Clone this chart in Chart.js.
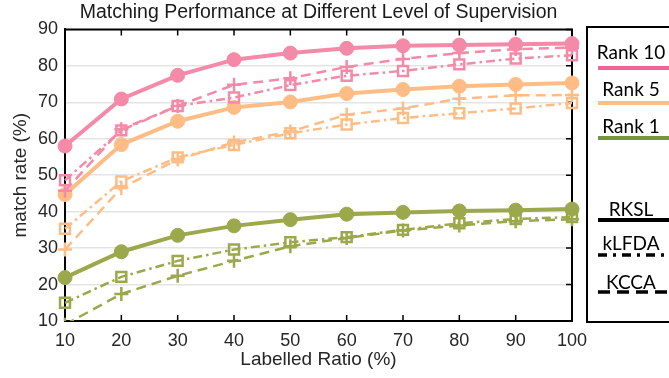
<!DOCTYPE html>
<html><head><meta charset="utf-8">
<script src="https://cdn.jsdelivr.net/npm/chart.js@4.4.1/dist/chart.umd.min.js"></script>
<style>
html,body{margin:0;padding:0;background:#fff;overflow:hidden;}
#wrap{position:relative;width:669px;height:378px;overflow:hidden;}
#c{position:absolute;left:0;top:0;}
#legend{position:absolute;left:586px;top:26px;width:120px;height:297px;border:2px solid #000;box-sizing:border-box;}
.lt{position:absolute;left:631px;font-family:Lato,'Open Sans',sans-serif;font-size:19px;color:#000;transform:translate(-50%,-50%);white-space:nowrap;line-height:1;}
#lsvg{position:absolute;left:0;top:0;}
</style></head>
<body>
<div id="wrap">
<canvas id="c" width="669" height="378"></canvas>
<div id="legend"></div>
<svg id="lsvg" width="669" height="378"></svg>
<div class="lt" style="top:51px">Rank 10</div>
<div class="lt" style="top:88px">Rank 5</div>
<div class="lt" style="top:125px">Rank 1</div>
<div class="lt" style="top:208px">RKSL</div>
<div class="lt" style="top:242px">kLFDA</div>
<div class="lt" style="top:281px">KCCA</div>
</div>
<script>
// ---- data ----
const ratios = [10, 20, 30, 40, 50, 60, 70, 80, 90, 100];
const yTickValues = [10, 20, 30, 40, 50, 60, 70, 80, 90];
const rank10RKSL  = [58.0, 70.9, 77.4, 81.7, 83.5, 84.8, 85.5, 85.7, 85.9, 86.1];
const rank10kLFDA = [48.6, 62.3, 69.0, 71.3, 74.7, 77.3, 78.6, 80.4, 82.0, 82.9];
const rank10KCCA  = [45.7, 62.6, 69.0, 74.8, 76.6, 79.7, 81.9, 83.5, 84.6, 85.0];
const rank5RKSL   = [44.7, 58.4, 64.8, 68.6, 70.1, 72.4, 73.5, 74.4, 74.9, 75.3];
const rank5kLFDA  = [35.3, 48.3, 54.9, 58.3, 61.5, 63.9, 65.7, 67.0, 68.3, 69.8];
const rank5KCCA   = [29.6, 46.5, 54.3, 59.0, 62.0, 66.6, 68.3, 71.0, 71.9, 72.0];
const rank1RKSL   = [21.9, 29.0, 33.5, 36.1, 37.8, 39.3, 39.8, 40.2, 40.4, 40.7];
const rank1kLFDA  = [15.0, 22.1, 26.5, 29.6, 31.6, 33.0, 35.0, 36.8, 38.0, 38.5];
const rank1KCCA   = [9.0, 17.4, 22.4, 26.5, 30.5, 32.8, 34.8, 36.2, 37.4, 37.9];
const legendRanks = ['Rank 10', 'Rank 5', 'Rank 1'];
const legendMethods = ['RKSL', 'kLFDA', 'KCCA'];

// ---- styles ----
const PINK = '#F48AA7', ORANGE = '#FFBD85', GREEN = '#9BA84B';
const LEG_PINK = '#F06496', LEG_ORANGE = '#FFBE86', LEG_GREEN = '#77933C';
const FONT = "'Liberation Sans', Arial, sans-serif";

function pts(arr){ return ratios.map((x,i)=>({x:x, y:arr[i]})); }
function solid(label, arr, col){
  return {label, data: pts(arr), borderColor: col, borderWidth: 4,
    pointStyle:'circle', pointRadius: 7, pointBackgroundColor: col, pointBorderColor: col, pointBorderWidth: 1,
    clip: false};
}
function dashdot(label, arr, col){
  return {label, data: pts(arr), borderColor: col, borderWidth: 2.5, borderDash:[9,4,2.5,4],
    pointStyle:'rect', pointRadius: 7, pointBackgroundColor:'rgba(0,0,0,0)', pointBorderColor: col, pointBorderWidth: 2.5,
    clip: false};
}
function dashed(label, arr, col, clip){
  return {label, data: pts(arr), borderColor: col, borderWidth: 2.5, borderDash:[10,6],
    pointStyle:'crossRot', pointRotation:45, pointRadius: 7, pointBackgroundColor: col, pointBorderColor: col, pointBorderWidth: 2.5,
    clip: clip === undefined ? false : clip};
}

const framePlugin = {
  id: 'frame',
  beforeDatasetsDraw(chart){
    const {ctx, chartArea: a, scales:{x, y}} = chart;
    ctx.save();
    ctx.strokeStyle = '#000';
    ctx.lineWidth = 2;
    ctx.beginPath();
    ctx.moveTo(a.left, a.top); ctx.lineTo(a.right, a.top); ctx.lineTo(a.right, a.bottom);
    ctx.stroke();
    ctx.lineWidth = 1.5;
    ctx.beginPath();
    ratios.forEach(v => {
      const px = x.getPixelForValue(v);
      ctx.moveTo(px, a.bottom); ctx.lineTo(px, a.bottom - 6);
      ctx.moveTo(px, a.top); ctx.lineTo(px, a.top + 6);
    });
    yTickValues.forEach(v => {
      const py = y.getPixelForValue(v);
      ctx.moveTo(a.right, py); ctx.lineTo(a.right - 6, py);
    });
    ctx.stroke();
    ctx.restore();
  }
};

new Chart(document.getElementById('c'), {
  type: 'line',
  data: { datasets: [
    solid('Rank 10 RKSL', rank10RKSL, PINK),
    dashdot('Rank 10 kLFDA', rank10kLFDA, PINK),
    dashed('Rank 10 KCCA', rank10KCCA, PINK),
    solid('Rank 5 RKSL', rank5RKSL, ORANGE),
    dashdot('Rank 5 kLFDA', rank5kLFDA, ORANGE),
    dashed('Rank 5 KCCA', rank5KCCA, ORANGE),
    solid('Rank 1 RKSL', rank1RKSL, GREEN),
    dashdot('Rank 1 kLFDA', rank1kLFDA, GREEN),
    dashed('Rank 1 KCCA', rank1KCCA, GREEN, {left:10, right:10, top:10, bottom:0})
  ]},
  options: {
    responsive: false, animation: false, devicePixelRatio: 1,
    layout: { padding: { left: 0, right: 97, top: 0, bottom: 0 } },
    plugins: {
      legend: { display: false },
      tooltip: { enabled: false },
      title: { display: true, text: 'Matching Performance at Different Level of Supervision',
        fullSize: false, color: '#1a1a1a', font: { family: FONT, size: 19.5, weight: 'normal' },
        padding: { top: 1, bottom: 5 } }
    },
    scales: {
      x: { type: 'linear', min: 10, max: 100,
        afterFit(s){ s.height = 57; },
        ticks: { stepSize: 10, color: '#262626', font: { family: FONT, size: 18 }, padding: 9, maxRotation: 0 },
        grid: { display: false, drawTicks: false },
        border: { display: true, color: '#000', width: 2 },
        title: { display: true, text: 'Labelled Ratio (%)', color: '#262626', font: { family: FONT, size: 19 }, padding: { top: 0, bottom: 7 } }
      },
      y: { type: 'linear', min: 10, max: 90,
        afterFit(s){ s.width = 65; },
        ticks: { stepSize: 10, color: '#262626', font: { family: FONT, size: 18 }, padding: 7 },
        grid: { color: '#E4E4E4', lineWidth: 1.5, drawTicks: false },
        border: { display: true, color: '#000', width: 2 },
        title: { display: true, text: 'match rate (%)', color: '#262626', font: { family: FONT, size: 19 }, padding: { top: 9, bottom: 0 } }
      }
    }
  },
  plugins: [framePlugin]
});

// legend line samples
const svg = document.getElementById('lsvg');
const legLines = [
  {y: 68, col: LEG_PINK, dash: null, w: 4},
  {y: 103, col: LEG_ORANGE, dash: null, w: 4},
  {y: 138, col: LEG_GREEN, dash: null, w: 4},
  {y: 220, col: '#000', dash: null, w: 4},
  {y: 255, col: '#000', dash: '9 6 3 6', w: 3.5},
  {y: 292, col: '#000', dash: '12 7', w: 3.5}
];
legLines.forEach(l => {
  const ln = document.createElementNS('http://www.w3.org/2000/svg', 'line');
  ln.setAttribute('x1', 598); ln.setAttribute('x2', 669);
  ln.setAttribute('y1', l.y); ln.setAttribute('y2', l.y);
  ln.setAttribute('stroke', l.col); ln.setAttribute('stroke-width', l.w);
  if (l.dash) ln.setAttribute('stroke-dasharray', l.dash);
  svg.appendChild(ln);
});
</script>
</body></html>
